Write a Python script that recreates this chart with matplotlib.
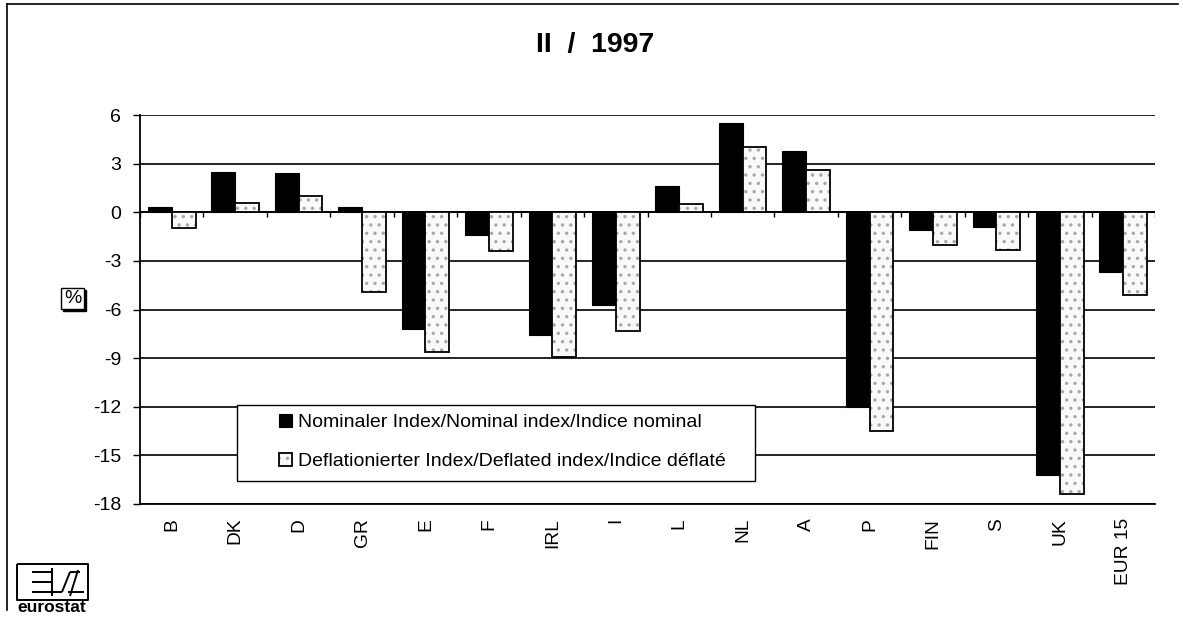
import matplotlib
matplotlib.use("Agg")
import matplotlib.pyplot as plt
import numpy as np
from matplotlib.patches import Rectangle
from matplotlib.lines import Line2D

plt.rcParams['font.family'] = ['Liberation Sans', 'DejaVu Sans']
plt.rcParams['hatch.linewidth'] = 1.2

categories = ["B", "DK", "D", "GR", "E", "F", "IRL", "I", "L", "NL", "A", "P", "FIN", "S", "UK", "EUR 15"]
nominal = [0.3, 2.5, 2.4, 0.3, -7.2, -1.4, -7.6, -5.7, 1.6, 5.5, 3.8, -12.0, -1.1, -0.9, -16.2, -3.7]
deflated = [-1.0, 0.6, 1.0, -4.9, -8.6, -2.4, -8.9, -7.3, 0.5, 4.0, 2.6, -13.5, -2.0, -2.3, -17.4, -5.1]
yticks = [6, 3, 0, -3, -6, -9, -12, -15, -18]
title = "II  /  1997"
labels = ["Nominaler Index/Nominal index/Indice nominal",
          "Deflationierter Index/Deflated index/Indice déflaté"]

W, H = 1183, 618
fig = plt.figure(figsize=(W / 100, H / 100), dpi=100)
ax = fig.add_axes([140 / W, 1 - 504 / H, (1155 - 140) / W, (504 - 115) / H])

x = np.arange(len(categories))
bw = 0.375
b1 = ax.bar(x - bw / 2, nominal, bw, color="black", edgecolor="black", linewidth=0.8, zorder=3)
b2h = ax.bar(x + bw / 2, deflated, bw, color="#f9f9f9", edgecolor="#a8a8a8", hatch="..",
             linewidth=0, zorder=3)
b2o = ax.bar(x + bw / 2, deflated, bw, fill=False, edgecolor="black", linewidth=1.3, zorder=4)

ax.set_xlim(-0.5, len(categories) - 0.5)
ax.set_ylim(min(yticks), max(yticks))
ax.set_yticks(yticks)
ax.set_yticklabels([str(t) for t in yticks], fontsize=14)
ax.yaxis.grid(True, color="black", linewidth=1.2, zorder=1)
ax.set_axisbelow(True)
ax.tick_params(axis="y", length=5, width=1, pad=8.5)
ax.set_xticks(x)
ax.set_xticklabels(categories, rotation=90, fontsize=13.8, va="top")
ax.tick_params(axis="x", length=0, pad=10)
for s in ["top", "right"]:
    ax.spines[s].set_visible(False)
ax.spines["left"].set_linewidth(1.3)
ax.spines["bottom"].set_linewidth(1.3)

# zero line with category-boundary ticks
ax.axhline(0, color="black", linewidth=1.4, zorder=2)
bounds = np.arange(len(categories) + 1) - 0.5
ax.vlines(bounds, -0.3, 0, color="black", linewidth=1, zorder=2)

# legend frame
fig.patches.append(Rectangle((237 / W, 1 - 481 / H), (755 - 237) / W, (481 - 405) / H,
                             transform=fig.transFigure, facecolor="white", edgecolor="black",
                             linewidth=1.0, zorder=5))
leg = fig.legend([b1, (b2h, b2o)], labels, loc="upper left",
                 bbox_to_anchor=(279 / W, 1 - 414 / H), bbox_transform=fig.transFigure,
                 fontsize=14, frameon=False,
                 handlelength=0.68, handleheight=0.68, handletextpad=0.3,
                 borderpad=0, labelspacing=1.1, borderaxespad=0)
leg.set_zorder(10)

fig.text(595 / W, 1 - 45 / H, title, ha="center", va="center", fontsize=20.5, fontweight="bold")

# percent box
fig.patches.append(Rectangle((63 / W, 1 - 311 / H), 23 / W, 21 / H, transform=fig.transFigure,
                             facecolor="black", edgecolor="black", zorder=1))
fig.patches.append(Rectangle((61 / W, 1 - 309 / H), 23 / W, 21 / H, transform=fig.transFigure,
                             facecolor="white", edgecolor="black", linewidth=1, zorder=2))
fig.text(72.5 / W, 1 - 298.5 / H, "%", ha="center", va="center", fontsize=14, zorder=3)

# outer frame lines
fig.add_artist(Line2D([7 / W, 7 / W], [1 - 4 / H, 1 - 610 / H], transform=fig.transFigure,
                      color="black", linewidth=1.2))
fig.add_artist(Line2D([7 / W, 1178 / W], [1 - 4 / H, 1 - 4 / H], transform=fig.transFigure,
                      color="black", linewidth=1.2))

# eurostat logo
lx0, lx1, ly0, ly1 = 17, 88, 564, 600
def fl(xs, ys, lw=1.4):
    fig.add_artist(Line2D([v / W for v in xs], [1 - v / H for v in ys], transform=fig.transFigure,
                          color="black", linewidth=lw, solid_capstyle="butt"))
fl([lx0, lx1, lx1, lx0, lx0], [ly0, ly0, ly1, ly1, ly0])
fl([32, 52], [572, 572])
fl([32, 52], [582, 582])
fl([32, 62], [592, 592])
fl([52, 52], [568, 596])
fl([62, 70], [592, 572])
fl([70, 80], [572, 572])
fl([70, 78], [596, 570])
fl([68, 84], [592, 592])
fig.text(52 / W, 1 - 612 / H, "eurostat", ha="center", va="baseline", fontsize=12.5, fontweight="bold")

fig.savefig("out.png", dpi=100)
